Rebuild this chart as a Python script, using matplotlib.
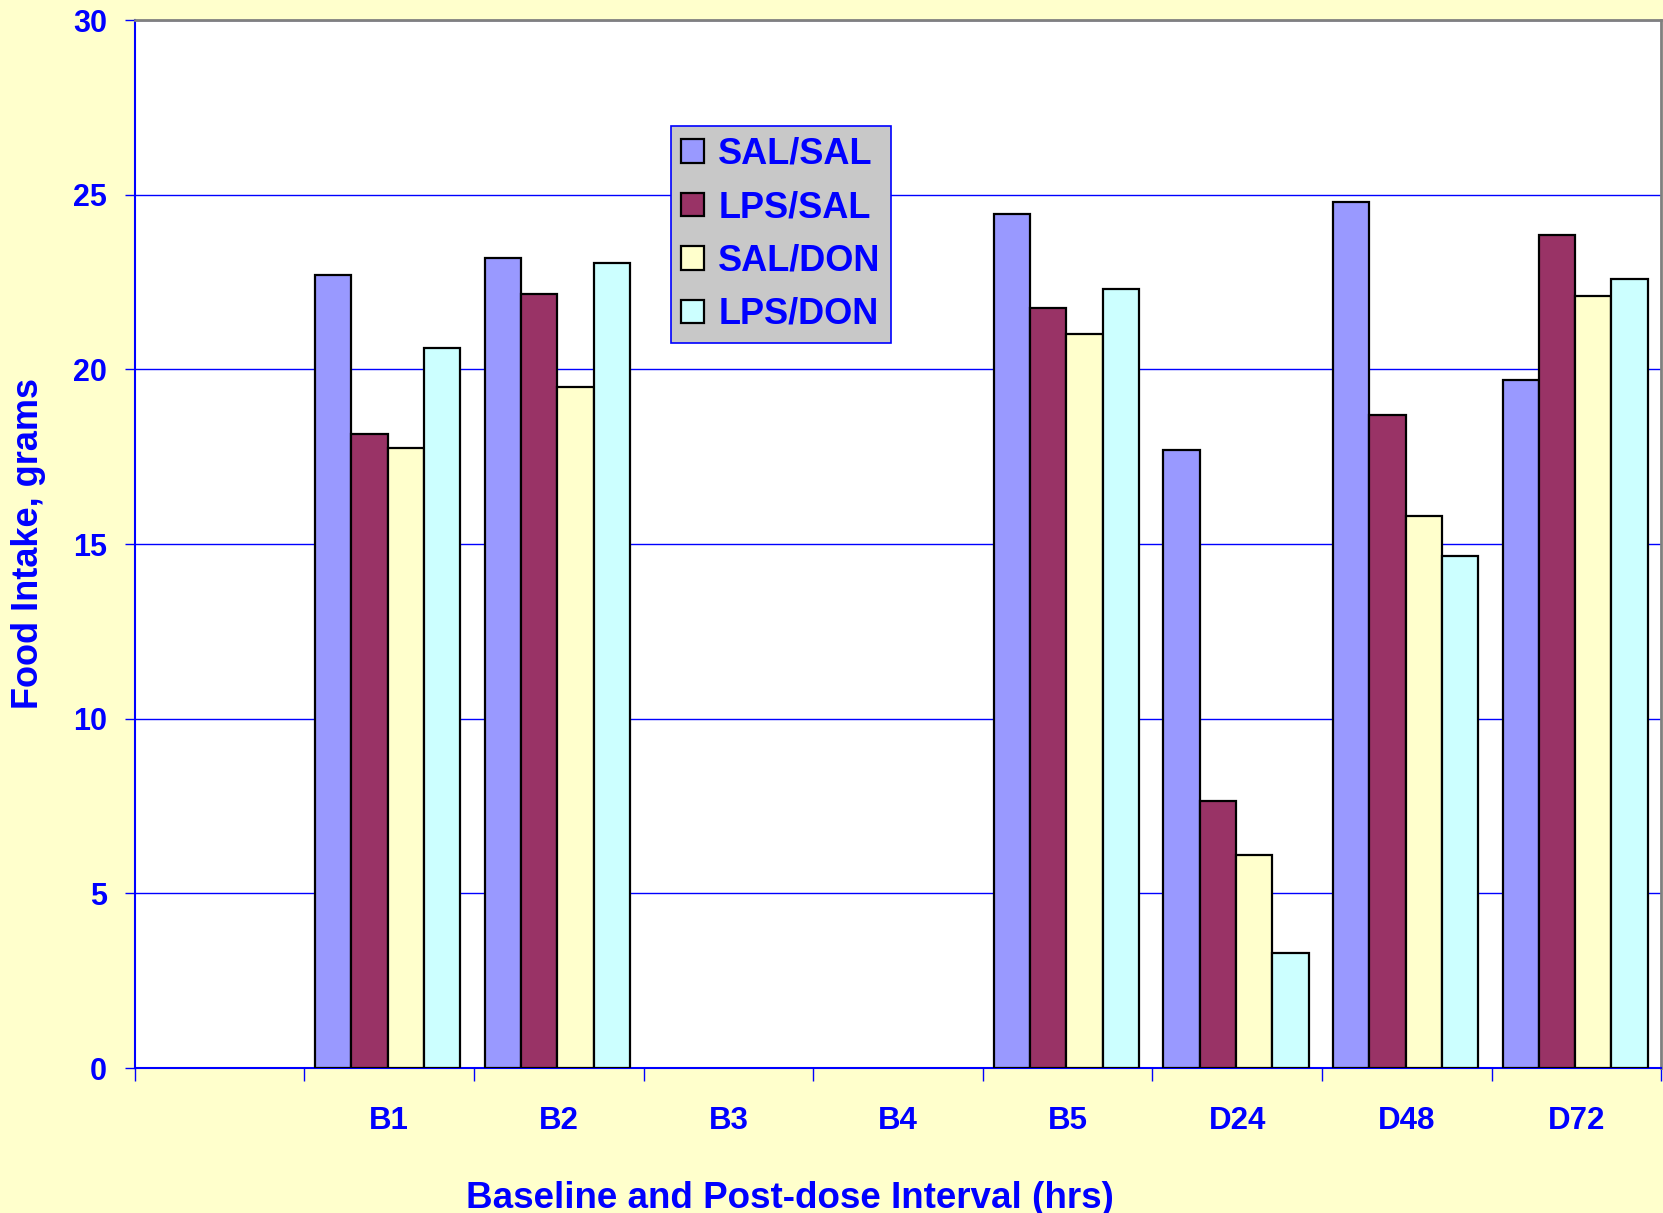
import numpy as np
import matplotlib
matplotlib.use("Agg")
import matplotlib.pyplot as plt

nan = np.nan

# category slots (first one is blank in the original)
categories = ["", "B1", "B2", "B3", "B4", "B5", "D24", "D48", "D72"]
series_names = ["SAL/SAL", "LPS/SAL", "SAL/DON", "LPS/DON"]

sal_sal = [nan, 22.7, 23.2, nan, nan, 24.45, 17.7, 24.8, 19.7]
lps_sal = [nan, 18.15, 22.15, nan, nan, 21.75, 7.65, 18.7, 23.85]
sal_don = [nan, 17.75, 19.5, nan, nan, 21.0, 6.1, 15.8, 22.1]
lps_don = [nan, 20.6, 23.05, nan, nan, 22.3, 3.3, 14.65, 22.6]

series = [sal_sal, lps_sal, sal_don, lps_don]
colors = ["#9999FF", "#993366", "#FFFFCC", "#CCFFFF"]

blue = "#0000FF"
bg = "#FFFFCC"
plt.rcParams['font.family'] = ['Liberation Sans', 'DejaVu Sans']
plt.rcParams['font.weight'] = 'bold'

fig = plt.figure(figsize=(16.63, 12.13), dpi=100, facecolor=bg)
ax = fig.add_axes([0.081, 0.1195, 0.918, 0.864])
ax.set_facecolor("white")

x = np.arange(len(categories))
bw = 0.214
for i, (vals, c, name) in enumerate(zip(series, colors, series_names)):
    offs = (i - 1.5) * bw - 0.008
    ax.bar(x + offs, vals, width=bw, color=c, edgecolor="black",
           linewidth=1.6, label=name, zorder=3)

ax.set_xlim(-0.5, len(categories) - 0.5)
ax.set_ylim(0, 30)
ax.set_yticks(np.arange(0, 31, 5))
ax.yaxis.grid(True, color=blue, linewidth=1.0, zorder=0)
ax.set_axisbelow(True)

# category labels at centers, tick marks at slot boundaries
ax.set_xticks(x)
ax.set_xticklabels(categories)
ax.set_xticks(np.arange(-0.5, len(categories)), minor=True)
ax.tick_params(axis='x', which='major', length=0, pad=27, labelsize=22.5,
               labelcolor=blue)
ax.tick_params(axis='x', which='minor', length=9, width=1, color=blue,
               direction='out')
ax.tick_params(axis='y', length=7, width=1, color=blue, pad=13,
               labelsize=22, labelcolor=blue)

for s in ["left", "bottom"]:
    ax.spines[s].set_color(blue)
    ax.spines[s].set_linewidth(1.5)
for s in ["top", "right"]:
    ax.spines[s].set_color("#808080")
    ax.spines[s].set_linewidth(2)

fig.text(0.017, 0.552, "Food Intake, grams", rotation=90, color=blue,
         fontsize=26, fontweight='bold', ha='center', va='center')
fig.text(0.475, 0.004, "Baseline and Post-dose Interval (hrs)", color=blue,
         fontsize=26.5, fontweight='bold', ha='center', va='baseline')

leg = ax.legend(loc='upper left', bbox_to_anchor=(0.351, 0.899),
                frameon=True, fancybox=False, fontsize=26,
                labelcolor=blue, handlelength=0.62, handleheight=0.62,
                handletextpad=0.4, labelspacing=0.51, borderpad=0.3,
                borderaxespad=0)
leg.get_frame().set_facecolor("#C8C8C8")
leg.get_frame().set_edgecolor(blue)
leg.get_frame().set_linewidth(1.2)
leg.get_frame().set_alpha(1)

fig.savefig("out.png", dpi=100, facecolor=bg)
